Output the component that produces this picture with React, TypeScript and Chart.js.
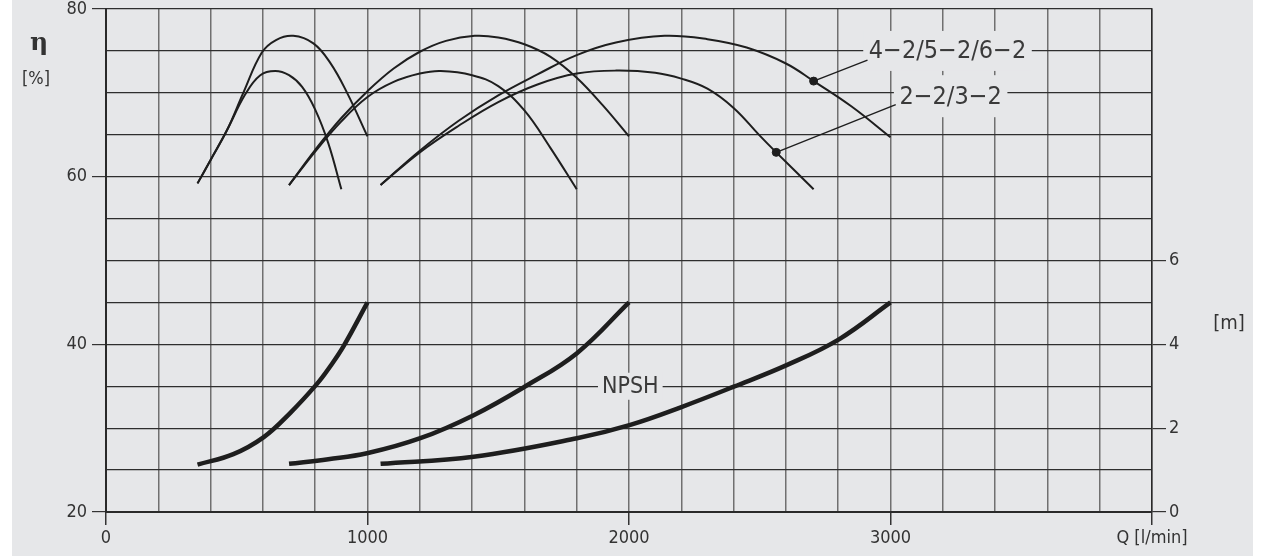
import React, { useEffect, useRef } from "react";
import { Chart, registerables } from "chart.js";

Chart.register(...registerables);

const FONT = "'DejaVu Sans Condensed', 'DejaVu Sans', sans-serif";
const BG = "#e6e7e9";
const INK = "#1e1e1e";
const TEXT = "#333333";

// Efficiency curves (η, %) – three pump groups, upper = 4-2/5-2/6-2, lower = 2-2/3-2
const q1Upper = [350, 400, 462, 525, 596, 650, 716, 793, 857, 922, 1000];
const eta1Upper = [59.2, 62, 65.5, 70, 74.8, 76.3, 76.8, 75.9, 73.6, 70, 64.8];
const q1Lower = [350, 400, 462, 532, 590, 647, 700, 750, 800, 850, 900];
const eta1Lower = [59.2, 62, 65.5, 69.8, 72.1, 72.6, 72.1, 70.7, 68, 64, 58.5];

const q2Upper = [700, 800, 900, 1000, 1100, 1200, 1300, 1410, 1500, 1600, 1700, 1800, 1900, 2000];
const eta2Upper = [59, 63.2, 67, 70.2, 72.9, 74.9, 76.2, 76.8, 76.6, 75.8, 74.3, 71.8, 68.5, 64.8];
const q2Lower = [700, 800, 900, 1000, 1100, 1200, 1280, 1400, 1500, 1600, 1700, 1800];
const eta2Lower = [59, 63, 66.6, 69.5, 71.3, 72.3, 72.6, 72.1, 70.8, 67.9, 63.4, 58.5];

const q3Upper = [1050, 1200, 1350, 1500, 1650, 1800, 1950, 2136, 2300, 2450, 2600, 2706, 2850, 3000];
const eta3Upper = [59, 63.1, 66.7, 69.7, 72.2, 74.5, 76, 76.8, 76.4, 75.4, 73.5, 71.4, 68.4, 64.7];
const q3Lower = [1050, 1200, 1350, 1500, 1650, 1800, 1950, 2100, 2200, 2300, 2400, 2500, 2563, 2706];
const eta3Lower = [59, 62.9, 66.1, 68.9, 71, 72.3, 72.65, 72.4, 71.7, 70.5, 68.2, 64.9, 62.9, 58.5];

// NPSH curves (m, right axis)
const qNpsh1 = [350, 487, 602, 704, 806, 857, 908, 1000];
const npsh1 = [1.13, 1.38, 1.78, 2.36, 3.05, 3.47, 3.95, 5.0];
const qNpsh2 = [700, 850, 998, 1202, 1406, 1604, 1801, 2000];
const npsh2 = [1.15, 1.26, 1.4, 1.76, 2.31, 3.0, 3.79, 5.0];
const qNpsh3 = [1050, 1406, 1801, 2005, 2203, 2401, 2605, 2803, 3000];
const npsh3 = [1.15, 1.32, 1.76, 2.08, 2.51, 2.99, 3.51, 4.12, 5.0];

// Curve labels and leader lines
const labelTexts = ["4−2/5−2/6−2", "2−2/3−2", "NPSH"];
const labelQ = [3218, 3230, 2005];
const labelEta = [75, 69.6, 35];
const markerQ = [2706, 2563];
const markerEta = [71.4, 62.9];
const leaderEndQ = [2912, 3020];
const leaderEndEta = [73.9, 68.6];

// Axis ticks
const xLabelTicks = [0, 1000, 2000, 3000];
const xUnitLabel = "Q [l/min]";
const etaLabelTicks = [20, 40, 60, 80];
const npshLabelTicks = [0, 2, 4, 6];

const pts = (q: number[], v: number[]) => q.map((x, i) => ({ x, y: v[i] }));

const effDs = (q: number[], v: number[]) => ({
  data: pts(q, v),
  yAxisID: "y",
  borderColor: INK,
  borderWidth: 2,
  pointRadius: 0,
  fill: false,
  tension: 0.4,
});
const npshDs = (q: number[], v: number[]) => ({
  data: pts(q, v),
  yAxisID: "y1",
  borderColor: INK,
  borderWidth: 4.5,
  borderCapStyle: "butt" as const,
  pointRadius: 0,
  fill: false,
  tension: 0.4,
});

const decor = {
  id: "decor",
  beforeDraw(chart: any) {
    const ctx = chart.ctx;
    ctx.save();
    ctx.fillStyle = BG;
    ctx.fillRect(12, 0, chart.width - 30, chart.height);
    ctx.restore();
  },
  afterDatasetsDraw(chart: any) {
    const { ctx, scales } = chart;
    const sx = scales.x;
    const sy = scales.y;
    ctx.save();
    const styles = [
      { size: 25, padX: 5.5, halfH: 20 },
      { size: 25, padX: 5.5, halfH: 21 },
      { size: 23, padX: 4, halfH: 13.5 },
    ];
    labelTexts.forEach((t, i) => {
      const st = styles[i];
      const cx = sx.getPixelForValue(labelQ[i]);
      const cy = sy.getPixelForValue(labelEta[i]);
      ctx.font = `${st.size}px ${FONT}`;
      const w = ctx.measureText(t).width;
      ctx.fillStyle = BG;
      ctx.fillRect(cx - w / 2 - st.padX, cy - st.halfH, w + 2 * st.padX, 2 * st.halfH);
      ctx.fillStyle = "#3a3a3a";
      ctx.textAlign = "center";
      ctx.textBaseline = "middle";
      ctx.fillText(t, cx, cy + 1);
    });
    // leader lines
    ctx.strokeStyle = INK;
    ctx.lineWidth = 1.4;
    markerQ.forEach((q, i) => {
      ctx.beginPath();
      ctx.moveTo(sx.getPixelForValue(q), sy.getPixelForValue(markerEta[i]));
      ctx.lineTo(sx.getPixelForValue(leaderEndQ[i]), sy.getPixelForValue(leaderEndEta[i]));
      ctx.stroke();
    });
    ctx.restore();
  },
  afterDraw(chart: any) {
    const { ctx, chartArea, scales } = chart;
    ctx.save();
    ctx.fillStyle = TEXT;
    ctx.textAlign = "center";
    ctx.font = "bold 25px 'DejaVu Serif', serif";
    ctx.textBaseline = "alphabetic";
    ctx.fillText("η", chartArea.left - 67, scales.y.getPixelForValue(75) - 1);
    ctx.textBaseline = "middle";
    ctx.font = `18px ${FONT}`;
    ctx.fillText("[%]", chartArea.left - 70, scales.y.getPixelForValue(71.6));
    ctx.font = `20px ${FONT}`;
    ctx.fillText("[m]", chartArea.right + 77, scales.y1.getPixelForValue(4.5));
    ctx.restore();
  },
};

export default function App() {
  const ref = useRef<HTMLCanvasElement | null>(null);

  useEffect(() => {
    if (!ref.current) return;
    const tickFont = { family: FONT, size: 18 };
    const chart = new Chart(ref.current, {
      type: "line",
      data: {
        datasets: [
          effDs(q1Upper, eta1Upper),
          effDs(q1Lower, eta1Lower),
          effDs(q2Upper, eta2Upper),
          effDs(q2Lower, eta2Lower),
          effDs(q3Upper, eta3Upper),
          effDs(q3Lower, eta3Lower),
          npshDs(qNpsh1, npsh1),
          npshDs(qNpsh2, npsh2),
          npshDs(qNpsh3, npsh3),
          {
            data: pts(markerQ, markerEta),
            yAxisID: "y",
            showLine: false,
            pointRadius: 4,
            pointBackgroundColor: INK,
            pointBorderColor: INK,
            borderColor: INK,
          } as any,
        ],
      },
      options: {
        responsive: false,
        animation: false,
        devicePixelRatio: 1,
        layout: { padding: { top: 9, left: 0, right: 0, bottom: 0 } },
        plugins: {
          legend: { display: false },
          tooltip: { enabled: false },
        },
        scales: {
          x: {
            type: "linear",
            min: 0,
            max: 4000,
            afterFit(s: any) {
              s.height = 44;
              s.paddingLeft = 0;
              s.paddingRight = 0;
            },
            ticks: {
              stepSize: 200,
              autoSkip: false,
              maxRotation: 0,
              padding: 3,
              color: TEXT,
              font: tickFont,
              callback: (v: any) =>
                v === 4000 ? xUnitLabel : xLabelTicks.includes(v) ? String(v) : "",
            },
            grid: {
              color: "#707070",
              lineWidth: 1.5,
              tickLength: 13,
              tickColor: (c: any) =>
                c.tick && c.tick.value % 1000 === 0 ? "#333" : "rgba(0,0,0,0)",
              tickWidth: 1.5,
            },
            border: { display: true, color: "#2a2a2a", width: 2 },
          },
          y: {
            type: "linear",
            position: "left",
            min: 20,
            max: 80,
            afterFit(s: any) {
              s.width = 106;
              s.paddingTop = 0;
              s.paddingBottom = 0;
            },
            ticks: {
              stepSize: 5,
              autoSkip: false,
              padding: 5,
              color: TEXT,
              font: tickFont,
              callback: (v: any) => (etaLabelTicks.includes(v) ? String(v) : ""),
            },
            grid: {
              color: "#2e2e2e",
              lineWidth: 1.2,
              tickLength: 14,
              tickColor: (c: any) =>
                c.tick && etaLabelTicks.includes(c.tick.value) ? "#333" : "rgba(0,0,0,0)",
            },
            border: { display: true, color: "#2a2a2a", width: 2 },
          },
          y1: {
            type: "linear",
            position: "right",
            min: 0,
            max: 12,
            afterFit(s: any) {
              s.width = 119;
              s.paddingTop = 0;
              s.paddingBottom = 0;
            },
            ticks: {
              stepSize: 2,
              autoSkip: false,
              padding: 3,
              color: TEXT,
              font: tickFont,
              callback: (v: any) => (npshLabelTicks.includes(v) ? String(v) : ""),
            },
            grid: {
              drawOnChartArea: false,
              tickLength: 14,
              lineWidth: 1.2,
              tickColor: (c: any) =>
                c.tick && npshLabelTicks.includes(c.tick.value) ? "#333" : "rgba(0,0,0,0)",
            },
            border: { display: true, color: "#2a2a2a", width: 1.5 },
          },
        },
      } as any,
      plugins: [decor],
    });
    return () => chart.destroy();
  }, []);

  return (
    <div style={{ position: "absolute", left: 0, top: 0, width: 1271, height: 556 }}>
      <canvas ref={ref} width={1271} height={556} style={{ display: "block" }} />
    </div>
  );
}
